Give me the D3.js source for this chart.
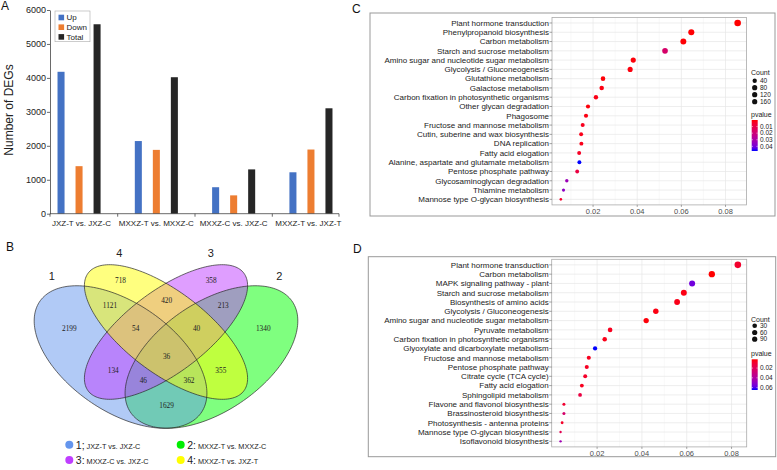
<!DOCTYPE html>
<html><head><meta charset="utf-8">
<script src="https://cdn.jsdelivr.net/npm/d3@7"></script>
<style>body{margin:0;background:#fff}svg{display:block;font-family:"Liberation Sans",Arial,sans-serif}</style>
</head><body><svg id="c" width="777" height="470"></svg>
<script>
// ---------- Panel A data ----------
const comparisons = ["JXZ-T vs. JXZ-C","MXXZ-T vs. MXXZ-C","MXXZ-C vs. JXZ-C","MXXZ-T vs. JXZ-T"];
const seriesNames = ["Up","Down","Total"];
const upValues = [4180, 2140, 780, 1220];
const downValues = [1400, 1880, 540, 1890];
const totalValues = [5580, 4020, 1305, 3105];
const yTicksA = [0,1000,2000,3000,4000,5000,6000];
const seriesColors = ["#4472C4","#ED7D31","#262626"];

// ---------- Panel B data ----------
const vennSetIds = ["1","2","3","4"];
const vennSetNames = ["JXZ-T vs. JXZ-C","MXXZ-T vs. MXXZ-C","MXXZ-C vs. JXZ-C","MXXZ-T vs. JXZ-T"];
const vennRegionCounts = [2199,718,358,1340,1121,420,213,54,40,36,134,355,46,362,1629];

// ---------- Panel C data ----------
const pathwaysC = ["Plant hormone transduction","Phenylpropanoid biosynthesis","Carbon metabolism","Starch and sucrose metabolism","Amino sugar and nucleotide sugar metabolism","Glycolysis / Gluconeogenesis","Glutathione metabolism","Galactose metabolism","Carbon fixation in photosynthetic organisms","Other glycan degradation","Phagosome","Fructose and mannose metabolism","Cutin, suberine and wax biosynthesis","DNA replication","Fatty acid elogation","Alanine, aspartate and glutamate metabolism","Pentose phosphate pathway","Glycosaminoglycan degradation","Thiamine metabolism","Mannose type O-glycan biosynthesis"];
const ratioC = [0.0855,0.0645,0.0609,0.0526,0.0382,0.0368,0.0245,0.0239,0.0213,0.0177,0.0168,0.0153,0.0146,0.0147,0.0137,0.0138,0.0128,0.0081,0.0066,0.0054];
const countC = [165,125,118,102,74,71,48,46,41,34,33,30,28,28,27,27,25,16,13,10];
const pvalueC = [0.0001,0.0003,0.0004,0.017,0.0008,0.0012,0.0006,0.0015,0.002,0.0009,0.0015,0.003,0.0025,0.0025,0.004,0.047,0.009,0.033,0.036,0.005];
const countTicksC = [40,80,120,160];
const pTicksC = [0.01,0.02,0.03,0.04];

// ---------- Panel D data ----------
const pathwaysD = ["Plant hormone transduction","Carbon metabolism","MAPK signaling pathway - plant","Starch and sucrose metabolism","Biosynthesis of amino acids","Glycolysis / Gluconeogenesis","Amino sugar and nucleotide sugar metabolism","Pyruvate metabolism","Carbon fixation in photosynthetic organisms","Glyoxylate and dicarboxylate metabolism","Fructose and mannose metabolism","Pentose phosphate pathway","Citrate cycle (TCA cycle)","Fatty acid elogation","Sphingolipid metabolism","Flavone and flavonol biosynthesis","Brassinosteroid biosynthesis","Photosynthesis - antenna proteins","Mannose type O-glycan biosynthesis","Isoflavonoid biosynthesis"];
const ratioD = [0.0828,0.0712,0.0624,0.0587,0.0557,0.0462,0.0419,0.0258,0.0234,0.0191,0.0163,0.0154,0.0147,0.0132,0.0124,0.0052,0.0052,0.0044,0.0037,0.0037];
const countD = [95,82,72,68,64,53,48,30,27,22,19,18,17,15,14,6,6,5,4,4];
const pvalueD = [0.009,0.002,0.056,0.004,0.005,0.004,0.003,0.006,0.005,0.065,0.006,0.007,0.008,0.006,0.014,0.01,0.025,0.008,0.018,0.045];
const countTicksD = [30,60,90];
const pTicksD = [0.02,0.04,0.06];
const xTicksDot = [0.02,0.04,0.06,0.08];

const svg = d3.select("#c");

// ================= Panel A =================
(function(){
  const g = svg.append("g");
  const L = 50, R = 339, T = 10, B = 213.7;
  const y = d3.scaleLinear().domain([0,6000]).range([B,T]);
  const x = d3.scaleBand().domain(comparisons).range([L-9.6, R+10.6]);
  const xi = d3.scaleBand().domain(seriesNames).range([0, x.bandwidth()]).paddingInner(0.61).paddingOuter(0.95);
  const series = [upValues, downValues, totalValues];
  comparisons.forEach((c,i)=>{
    seriesNames.forEach((s,j)=>{
      g.append("rect").attr("x", x(c)+xi(s)).attr("width", xi.bandwidth())
        .attr("y", y(series[j][i])).attr("height", B - y(series[j][i])).attr("fill", seriesColors[j]);
    });
  });
  const ya = g.append("g").attr("transform",`translate(${L},0)`)
    .call(d3.axisLeft(y).tickValues(yTicksA).tickSize(3).tickSizeOuter(0).tickFormat(d3.format("d")));
  ya.select(".domain").attr("stroke","#444").attr("stroke-width",0.8);
  ya.selectAll(".tick line").attr("stroke","#444").attr("stroke-width",0.8);
  ya.selectAll("text").attr("font-size",9).attr("fill","#222").attr("font-family","Liberation Sans, Arial").attr("x",-4);
  // x axis
  g.append("line").attr("x1",L).attr("x2",R).attr("y1",B).attr("y2",B).attr("stroke","#444").attr("stroke-width",0.8);
  const bounds = comparisons.map(c=>x(c)).concat([x(comparisons[3])+x.bandwidth()]).map(v=>Math.max(L,Math.min(R,v)));
  bounds.forEach(v=>g.append("line").attr("x1",v).attr("x2",v).attr("y1",B).attr("y2",B+3).attr("stroke","#444").attr("stroke-width",0.8));
  comparisons.forEach((c,i)=>{
    const cx = (bounds[i]+bounds[i+1])/2*0.5 + (x(c)+x.bandwidth()/2)*0.5;
    g.append("text").attr("x",cx).attr("y",B+12.5).attr("text-anchor","middle").attr("font-size",8).attr("fill","#222").text(c);
  });
  g.append("text").attr("transform",`translate(13,110) rotate(-90)`).attr("text-anchor","middle").attr("font-size",12).attr("fill","#222").text("Number of DEGs");
  // legend
  const lg = g.append("g");
  lg.append("rect").attr("x",55).attr("y",11).attr("width",35).attr("height",30.7).attr("fill","#fff").attr("stroke","#aaa").attr("stroke-width",0.6);
  seriesNames.forEach((s,j)=>{
    const yy = 17.5 + j*9.7;
    lg.append("rect").attr("x",58.5).attr("y",yy-2.8).attr("width",5.6).attr("height",5.6).attr("fill",seriesColors[j]);
    lg.append("text").attr("x",66.5).attr("y",yy+2.9).attr("font-size",8).attr("fill","#222").text(s);
  });
  svg.append("text").attr("x",1).attr("y",10).attr("font-size",12).attr("fill","#111").text("A");
})();

// ================= Panel B (Venn) =================
(function(){
  const g = svg.append("g");
  const xv = d3.scaleLinear().domain([0,1]).range([14.5, 317.5]);
  const yv = d3.scaleLinear().domain([0,1]).range([474.5, 224.5]);
  const ellipses = [
    {cx:0.35, cy:0.47, a:0.35, b:0.20, rot:-45, fill:"#6495ED"},
    {cx:0.65, cy:0.47, a:0.35, b:0.20, rot:45, fill:"#00FF00"},
    {cx:0.50, cy:0.57, a:0.35, b:0.15, rot:45, fill:"#BF3EFF"},
    {cx:0.50, cy:0.57, a:0.35, b:0.15, rot:-45, fill:"#FFFF00"}
  ];
  const drawOrder = [1,0,2,3];
  const line = d3.line().x(p=>xv(p[0])).y(p=>yv(p[1])).curve(d3.curveLinearClosed);
  const paths = ellipses.map(e=>{
    const th = e.rot*Math.PI/180;
    return d3.range(0, 360, 2).map(t=>{
      const tt = t*Math.PI/180;
      return [e.cx + e.a*Math.cos(tt)*Math.cos(th) - e.b*Math.sin(tt)*Math.sin(th),
              e.cy + e.a*Math.cos(tt)*Math.sin(th) + e.b*Math.sin(tt)*Math.cos(th)];
    });
  });
  drawOrder.forEach(i=>g.append("path").attr("d",line(paths[i])).attr("fill",ellipses[i].fill).attr("fill-opacity",0.5));
  drawOrder.forEach(i=>g.append("path").attr("d",line(paths[i])).attr("fill","none").attr("stroke","#2a2a2a").attr("stroke-width",0.7));
  const regionPos = [[0.181,0.585],[0.350,0.778],[0.649,0.778],[0.821,0.585],[0.315,0.678],[0.502,0.695],[0.689,0.678],[0.400,0.585],[0.601,0.585],[0.502,0.471],[0.326,0.418],[0.681,0.418],[0.425,0.378],[0.576,0.378],[0.502,0.275]];
  vennRegionCounts.forEach((v,i)=>{
    g.append("text").attr("x",xv(regionPos[i][0])).attr("y",yv(regionPos[i][1])).attr("dy","0.35em")
      .attr("text-anchor","middle").attr("font-family","Liberation Serif, Times New Roman, serif").attr("font-size",7.3).attr("fill","#222").text(v);
  });
  const setPos = [[0.123,0.792],[0.874,0.792],[0.648,0.885],[0.346,0.885]];
  vennSetIds.forEach((s,i)=>{
    g.append("text").attr("x",xv(setPos[i][0])).attr("y",yv(setPos[i][1])).attr("dy","0.35em")
      .attr("text-anchor","middle").attr("font-size",11).attr("fill","#222").text(s);
  });
  // legend
  const legColors = ["#6495ED","#00EE00","#BF3EFF","#FFFF00"];
  const seps = [";",":",":",":"];
  const legPos = [[69.3,444.7],[180.7,444.7],[69.3,460],[180.7,460]];
  vennSetIds.forEach((s,i)=>{
    const [lx,ly] = legPos[i];
    g.append("circle").attr("cx",lx).attr("cy",ly).attr("r",4).attr("fill",legColors[i]);
    const t = g.append("text").attr("x",lx+6.5).attr("y",ly+3.8).attr("fill","#222");
    t.append("tspan").attr("font-size",10.5).text(s+seps[i]);
    t.append("tspan").attr("font-size",7.3).attr("dx",2).text(vennSetNames[i]);
  });
  svg.append("text").attr("x",6).attr("y",251).attr("font-size",12).attr("fill","#111").text("B");
})();

// ================= Dot plots C & D =================
function dotPanel(cfg){
  const g = svg.append("g");
  g.append("rect").attr("x",cfg.box[0]).attr("y",cfg.box[1]).attr("width",cfg.box[2]-cfg.box[0]).attr("height",cfg.box[3]-cfg.box[1])
    .attr("fill","#fff").attr("stroke","#999").attr("stroke-width",1);
  const [pl,pt,pr,pb] = cfg.panel;
  const mn = d3.min(cfg.ratio), mx = d3.max(cfg.ratio), sp = mx-mn;
  const x = d3.scaleLinear().domain([mn-0.05*sp, mx+0.05*sp]).range([pl,pr]);
  const y = d3.scalePoint().domain(cfg.paths).range([pt,pb]).padding(0.6);
  const pmin = d3.min(cfg.pvalue), pmax = d3.max(cfg.pvalue);
  const col = d3.scaleLinear().domain([pmin,pmax]).range(["#FF0000","#0000FF"]).interpolate(d3.interpolateLab);
  const cmin = d3.min(cfg.count), cmax = d3.max(cfg.count);
  const tnorm = d3.scaleLinear().domain([cmin,cmax]);
  const rs = d3.scaleSqrt().domain([0,1]).range(cfg.rRange);
  const r = v => rs(Math.max(0,tnorm(v)));
  g.append("rect").attr("x",pl).attr("y",pt).attr("width",pr-pl).attr("height",pb-pt).attr("fill","#fff");
  // minor grid
  const minor = d3.range(0.01, 0.1, 0.02).filter(v=>v>x.domain()[0]&&v<x.domain()[1]);
  minor.forEach(v=>g.append("line").attr("x1",x(v)).attr("x2",x(v)).attr("y1",pt).attr("y2",pb).attr("stroke","#f0f0f0").attr("stroke-width",0.4));
  xTicksDot.forEach(v=>g.append("line").attr("x1",x(v)).attr("x2",x(v)).attr("y1",pt).attr("y2",pb).attr("stroke","#e6e6e6").attr("stroke-width",0.7));
  cfg.paths.forEach(p=>g.append("line").attr("x1",pl).attr("x2",pr).attr("y1",y(p)).attr("y2",y(p)).attr("stroke","#e6e6e6").attr("stroke-width",0.7));
  g.append("rect").attr("x",pl).attr("y",pt).attr("width",pr-pl).attr("height",pb-pt).attr("fill","none").attr("stroke","#aaa").attr("stroke-width",0.8);
  // y labels
  cfg.paths.forEach(p=>{
    g.append("line").attr("x1",pl-2.5).attr("x2",pl).attr("y1",y(p)).attr("y2",y(p)).attr("stroke","#666").attr("stroke-width",0.6);
    g.append("text").attr("x",pl-3).attr("y",y(p)).attr("dy","0.35em").attr("text-anchor","end").attr("font-size",8).attr("fill","#222").text(p);
  });
  xTicksDot.forEach(v=>{
    g.append("line").attr("x1",x(v)).attr("x2",x(v)).attr("y1",pb).attr("y2",pb+2).attr("stroke","#666").attr("stroke-width",0.6);
    g.append("text").attr("x",x(v)).attr("y",pb+6.5).attr("dy","0.35em").attr("text-anchor","middle").attr("font-size",7.5).attr("fill","#4d4d4d").text(v.toFixed(2));
  });
  const idx = d3.range(cfg.paths.length);
  idx.forEach(i=>{
    g.append("circle").attr("cx",x(cfg.ratio[i])).attr("cy",y(cfg.paths[i])).attr("r",r(cfg.count[i])).attr("fill",col(cfg.pvalue[i]));
  });
  // legends
  const lx = cfg.legX;
  g.append("text").attr("x",lx).attr("y",cfg.countTitleY).attr("dy","0.35em").attr("font-size",7).attr("fill","#222").text("Count");
  cfg.countTicks.forEach((c,k)=>{
    const yy = cfg.countY0 + k*cfg.countStep;
    g.append("circle").attr("cx",lx+3.7).attr("cy",yy).attr("r",Math.min(2.6, r(c))).attr("fill","#111");
    g.append("text").attr("x",lx+9).attr("y",yy).attr("dy","0.35em").attr("font-size",6.5).attr("fill","#222").text(c);
  });
  g.append("text").attr("x",lx).attr("y",cfg.pTitleY).attr("dy","0.35em").attr("font-size",7).attr("fill","#222").text("pvalue");
  const gid = "grad"+cfg.id;
  const grad = svg.append("defs").append("linearGradient").attr("id",gid).attr("x1",0).attr("x2",0).attr("y1",0).attr("y2",1);
  d3.range(0,1.0001,0.1).forEach(t=>grad.append("stop").attr("offset",t).attr("stop-color",col(pmin+t*(pmax-pmin))));
  const [b0,b1] = cfg.bar;
  g.append("rect").attr("x",lx+0.7).attr("y",b0).attr("width",6).attr("height",b1-b0).attr("fill",`url(#${gid})`);
  const pb_ = d3.scaleLinear().domain([pmin,pmax]).range([b0,b1]);
  cfg.pTicks.forEach(v=>{
    g.append("line").attr("x1",lx+0.7).attr("x2",lx+2).attr("y1",pb_(v)).attr("y2",pb_(v)).attr("stroke","#fff").attr("stroke-width",0.5);
    g.append("line").attr("x1",lx+5.4).attr("x2",lx+6.7).attr("y1",pb_(v)).attr("y2",pb_(v)).attr("stroke","#fff").attr("stroke-width",0.5);
    g.append("text").attr("x",lx+9).attr("y",pb_(v)).attr("dy","0.35em").attr("font-size",6.5).attr("fill","#222").text(v.toFixed(2));
  });
  svg.append("text").attr("x",cfg.label[0]).attr("y",cfg.label[1]).attr("font-size",12).attr("fill","#111").text(cfg.id);
}

dotPanel({id:"C", paths:pathwaysC, ratio:ratioC, count:countC, pvalue:pvalueC,
  box:[370,13,775,216], panel:[552,17.4,746.5,204.9], rRange:[1.3,3.3],
  legX:751, countTitleY:73, countY0:80.7, countStep:7, countTicks:countTicksC,
  pTitleY:114.7, bar:[120,151], pTicks:pTicksC, label:[352,12.5]});
dotPanel({id:"D", paths:pathwaysD, ratio:ratioD, count:countD, pvalue:pvalueD,
  box:[368.3,256.7,775.7,456.7], panel:[551.7,259.3,746.7,446.9], rRange:[1.2,3.3],
  legX:751, countTitleY:319.7, countY0:325.8, countStep:6.7, countTicks:countTicksD,
  pTitleY:354, bar:[359.3,390], pTicks:pTicksD, label:[353,253]});
</script></body></html>
